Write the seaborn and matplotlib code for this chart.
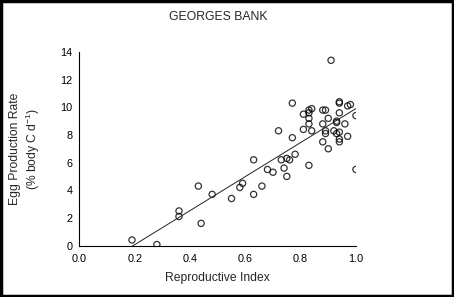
import numpy as np
import pandas as pd
import matplotlib
matplotlib.use("Agg")
import matplotlib.pyplot as plt
import seaborn as sns
from matplotlib.patches import Rectangle

reproductive_index = [0.19, 0.28, 0.36, 0.36, 0.43, 0.44, 0.48, 0.55, 0.58, 0.59,
                      0.63, 0.63, 0.66, 0.68, 0.70, 0.72, 0.73, 0.74, 0.75, 0.75,
                      0.76, 0.77, 0.77, 0.78, 0.81, 0.81, 0.83, 0.83, 0.83, 0.83,
                      0.83, 0.84, 0.84, 0.88, 0.88, 0.88, 0.89, 0.89, 0.89, 0.90,
                      0.90, 0.91, 0.92, 0.93, 0.93, 0.93, 0.94, 0.94, 0.94, 0.94,
                      0.94, 0.94, 0.96, 0.97, 0.97, 0.98, 1.00, 1.00]
egg_production = [0.4, 0.07, 2.5, 2.1, 4.3, 1.6, 3.7, 3.4, 4.2, 4.5,
                  6.2, 3.7, 4.3, 5.5, 5.3, 8.3, 6.2, 5.6, 6.3, 5.0,
                  6.2, 10.3, 7.8, 6.6, 8.4, 9.5, 9.8, 9.6, 9.2, 8.8,
                  5.8, 9.9, 8.3, 9.8, 8.8, 7.5, 9.8, 8.3, 8.1, 9.2,
                  7.0, 13.4, 8.3, 9.0, 8.9, 8.1, 10.4, 10.3, 9.6, 8.2,
                  7.7, 7.5, 8.8, 10.1, 7.9, 10.2, 9.4, 5.5]
x_ticks = [0.0, 0.2, 0.4, 0.6, 0.8, 1.0]
y_ticks = [0, 2, 4, 6, 8, 10, 12, 14]

df = pd.DataFrame({"ri": reproductive_index, "epr": egg_production})

sns.set_style("white")
plt.rcParams["font.family"] = ["Liberation Sans", "DejaVu Sans"]

fig = plt.figure(figsize=(4.54, 2.97), dpi=100)
ax = fig.add_axes([0.175, 0.1734, 0.609, 0.6515])

sns.regplot(data=df, x="ri", y="epr", ax=ax, ci=None, truncate=True,
            scatter_kws=dict(s=20, facecolors="none", edgecolors="black", linewidths=0.9),
            line_kws=dict(color="#222222", linewidth=0.7))

ax.set_xlim(0, 1.0)
ax.set_ylim(0, 14)
ax.set_xticks(x_ticks)
ax.set_xticklabels([f"{t:.1f}" for t in x_ticks])
ax.set_yticks(y_ticks)
ax.tick_params(axis="both", direction="out", length=3, width=0.8, labelsize=7.8,
               color="black", labelcolor="black", pad=2)
ax.tick_params(axis="x", pad=3)
sns.despine(ax=ax)
for sp in ["left", "bottom"]:
    ax.spines[sp].set_color("black")
    ax.spines[sp].set_linewidth(0.8)
ax.set_xlabel("Reproductive Index", fontsize=8.7, labelpad=6)
ax.set_ylabel("Egg Production Rate\n(% body C d$^{\\mathregular{-1}}$)", fontsize=8.7, labelpad=13,
              linespacing=1.25)
fig.text(218 / 454, 1 - 17 / 297, "GEORGES BANK", fontsize=8.8, ha="center", va="center")

fig.patches.append(Rectangle((0.002, 0.003), 0.996, 0.994, transform=fig.transFigure,
                             fill=False, edgecolor="black", linewidth=2.5))

fig.savefig("out.png", dpi=100)
